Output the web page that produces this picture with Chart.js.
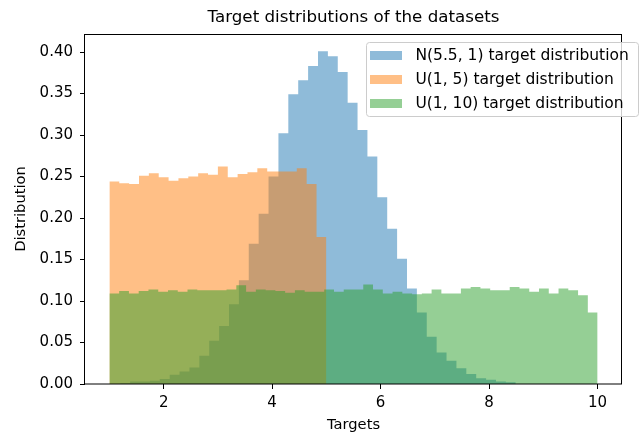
<!DOCTYPE html>
<html>
<head>
<meta charset="utf-8">
<script src="https://cdn.jsdelivr.net/npm/chart.js@4.4.0/dist/chart.umd.min.js"></script>
<style>
  html, body { margin: 0; padding: 0; background: #fff; }
</style>
</head>
<body>
<canvas id="grafico" width="641" height="434"></canvas>
<script>
// histogram bins (density)
var normalStart = 1.017;
var normalWidth = 0.1823;
var normalHeights = [0.000, 0.001, 0.003, 0.003, 0.004, 0.006, 0.011, 0.015, 0.020, 0.034,
    0.052, 0.070, 0.096, 0.125, 0.169, 0.205, 0.250, 0.302, 0.349, 0.366,
    0.383, 0.401, 0.395, 0.376, 0.339, 0.306, 0.274, 0.225, 0.187, 0.151,
    0.115, 0.086, 0.057, 0.038, 0.028, 0.019, 0.012, 0.007, 0.005, 0.003, 0.002];

var u5Start = 1;
var u5Width = 4 / 22;
var u5Heights = [0.244, 0.242, 0.241, 0.251, 0.254, 0.249, 0.245, 0.248, 0.250, 0.254,
    0.252, 0.262, 0.249, 0.253, 0.255, 0.260, 0.256, 0.256, 0.256, 0.260,
    0.241, 0.177];

var u10Start = 1;
var u10Width = 0.18;
var u10Heights = [0.109, 0.112, 0.109, 0.112, 0.114, 0.111, 0.113, 0.111, 0.114, 0.113,
    0.113, 0.113, 0.114, 0.119, 0.111, 0.114, 0.113, 0.112, 0.110, 0.113,
    0.111, 0.111, 0.114, 0.111, 0.114, 0.114, 0.120, 0.114, 0.109, 0.111,
    0.109, 0.108, 0.109, 0.114, 0.109, 0.109, 0.115, 0.117, 0.115, 0.113,
    0.113, 0.117, 0.115, 0.111, 0.115, 0.109, 0.115, 0.113, 0.107, 0.086];

var labels = ["N(5.5, 1) target distribution", "U(1, 5) target distribution", "U(1, 10) target distribution"];
var cores = ['rgba(31, 119, 180, 0.5)', 'rgba(255, 127, 14, 0.5)', 'rgba(44, 160, 44, 0.5)'];

var xTicks = [2, 4, 6, 8, 10];
var yTicks = [0, 0.05, 0.10, 0.15, 0.20, 0.25, 0.30, 0.35, 0.40];

var titulo = 'Target distributions of the datasets';
var fonte = '"DejaVu Sans", sans-serif';

// bins -> points for a stepped, filled line
function degraus(inicio, largura, alturas) {
    var pts = [];
    for (var i = 0; i < alturas.length; i++) {
        pts.push({ x: inicio + i * largura, y: alturas[i] });
    }
    pts.push({ x: inicio + alturas.length * largura, y: 0 });
    return pts;
}

function serie(i, pts, ordem) {
    return {
        label: labels[i],
        data: pts,
        stepped: 'before',
        fill: 'origin',
        backgroundColor: cores[i],
        borderWidth: 0,
        pointRadius: 0,
        order: ordem
    };
}

// four spines + title centred over the axes, like matplotlib
var moldura = {
    id: 'moldura',
    afterDatasetsDraw: function (chart) {
        var a = chart.chartArea;
        var ctx = chart.ctx;
        ctx.save();
        ctx.strokeStyle = '#000';
        ctx.lineWidth = 1;
        ctx.strokeRect(Math.round(a.left) - 0.5, Math.round(a.top) + 0.5,
            Math.round(a.right - a.left), Math.round(a.bottom - a.top) - 0.5);
        ctx.fillStyle = '#000';
        ctx.font = '16.7px ' + fonte;
        ctx.textAlign = 'center';
        ctx.textBaseline = 'middle';
        ctx.fillText(titulo, (a.left + a.right) / 2, a.top - 16);
        ctx.restore();
    }
};

var legenda = {
    id: 'legenda',
    afterDraw: function (chart) {
        var a = chart.chartArea;
        var ctx = chart.ctx;
        ctx.save();
        ctx.font = '15.5px ' + fonte;
        var maxW = 0;
        labels.forEach(function (t) { maxW = Math.max(maxW, ctx.measureText(t).width); });
        var w = 49.4 + maxW + 9.5;
        var h = 74;
        var topo = a.top + 8;
        var esq = a.right + 16.3 - w;
        ctx.beginPath();
        ctx.roundRect(Math.round(esq) + 0.5, topo + 0.5, Math.round(w), h, 3);
        ctx.fillStyle = 'rgba(255, 255, 255, 0.8)';
        ctx.fill();
        ctx.strokeStyle = '#cccccc';
        ctx.lineWidth = 1;
        ctx.stroke();
        ctx.textBaseline = 'middle';
        ctx.textAlign = 'left';
        for (var i = 0; i < labels.length; i++) {
            var cy = topo + 13 + i * 24.2;
            ctx.fillStyle = cores[i];
            ctx.fillRect(Math.round(esq) + 4, Math.round(cy - 4.5), 32, 9);
            ctx.fillStyle = '#000';
            ctx.fillText(labels[i], esq + 49.4, cy + 1);
        }
        ctx.restore();
    }
};

var ctxGrafico = document.getElementById('grafico');

var grafico = new Chart(ctxGrafico, {
    type: 'line',
    data: {
        datasets: [
            serie(0, degraus(normalStart, normalWidth, normalHeights), 2),
            serie(1, degraus(u5Start, u5Width, u5Heights), 1),
            serie(2, degraus(u10Start, u10Width, u10Heights), 0)
        ]
    },
    options: {
        responsive: false,
        animation: false,
        devicePixelRatio: 1,
        layout: { padding: { left: 0, right: 19, top: 34, bottom: 0 } },
        plugins: {
            legend: { display: false },
            tooltip: { enabled: false },
            title: { display: false }
        },
        scales: {
            x: {
                type: 'linear',
                min: 0.55,
                max: 10.45,
                afterBuildTicks: function (s) { s.ticks = xTicks.map(function (v) { return { value: v }; }); },
                afterFit: function (s) { s.height = 50; },
                ticks: {
                    color: '#000',
                    font: { family: fonte, size: 15 },
                    padding: 5,
                    maxRotation: 0,
                    autoSkip: false
                },
                grid: { drawOnChartArea: false, tickLength: 5, tickColor: '#000' },
                border: { display: false },
                title: {
                    display: true,
                    text: 'Targets',
                    color: '#000',
                    font: { family: fonte, size: 14.7 },
                    padding: { top: 0, bottom: 0 }
                }
            },
            y: {
                type: 'linear',
                min: 0,
                max: 0.4217,
                afterBuildTicks: function (s) { s.ticks = yTicks.map(function (v) { return { value: v }; }); },
                afterFit: function (s) { s.width = 85; },
                ticks: {
                    color: '#000',
                    font: { family: fonte, size: 15 },
                    padding: 7,
                    callback: function (v) { return v.toFixed(2); }
                },
                grid: { drawOnChartArea: false, tickLength: 5, tickColor: '#000' },
                border: { display: false },
                title: {
                    display: true,
                    text: 'Distribution',
                    color: '#000',
                    font: { family: fonte, size: 14.7 },
                    padding: { top: 12, bottom: 0 }
                }
            }
        }
    },
    plugins: [moldura, legenda]
});
</script>
</body>
</html>
